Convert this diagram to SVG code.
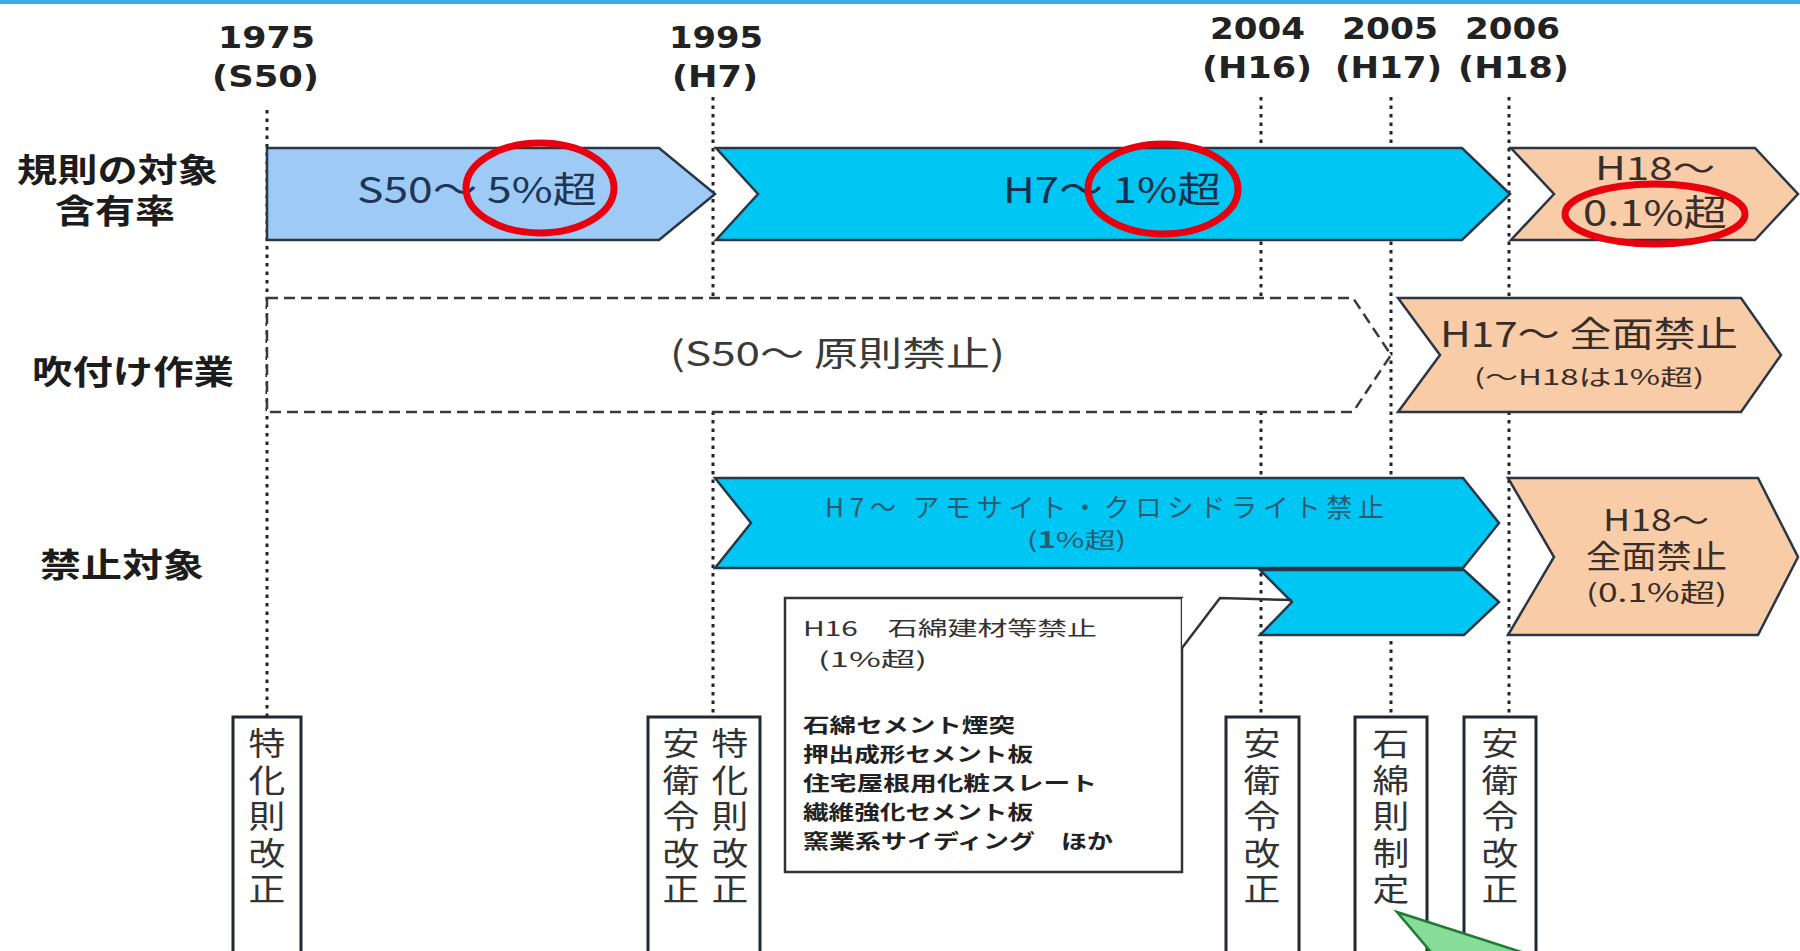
<svg xmlns="http://www.w3.org/2000/svg" width="1800" height="951" viewBox="0 0 1800 951">
<style>
text{font-family:"Noto Sans CJK JP","Noto Sans",sans-serif}
.yr{font-family:"DejaVu Sans","Liberation Sans",sans-serif;font-weight:bold;font-size:30px;fill:#222}
.lbl{font-weight:700;font-size:33px;fill:#1c1c1c}
.guide{stroke:#222;stroke-width:3;stroke-dasharray:3.5 5;fill:none}
.ar{stroke:#2a3645;stroke-width:2.5;stroke-linejoin:miter}
.lb{fill:#9ecbf6}
.cy{fill:#00c6f3}
.pe{fill:#f9cca8}
.ring{fill:none;stroke:#e8000f;stroke-width:7}
.vbox{fill:#fff;stroke:#1f2833;stroke-width:3}
.vt{font-size:32px;fill:#333;writing-mode:vertical-rl;letter-spacing:4.5px}
.cl{font-size:20.5px;fill:#333}
.li{font-size:20px;font-weight:700;fill:#222}
</style>
<rect x="0" y="0" width="1800" height="951" fill="#fff"/>
<rect x="0" y="0" width="1800" height="4" fill="#3daae6"/>

<g id="guides">
<line class="guide" x1="267" y1="110" x2="267" y2="717"/>
<line class="guide" x1="713" y1="97" x2="713" y2="717"/>
<line class="guide" x1="1261" y1="97" x2="1261" y2="717"/>
<line class="guide" x1="1391" y1="97" x2="1391" y2="717"/>
<line class="guide" x1="1509" y1="97" x2="1509" y2="717"/>
</g>

<g id="years">
<text class="yr" x="218" y="48" textLength="97" lengthAdjust="spacingAndGlyphs">1975</text>
<text class="yr" x="212" y="87" textLength="107" lengthAdjust="spacingAndGlyphs">(S50)</text>
<text class="yr" x="669" y="48" textLength="94" lengthAdjust="spacingAndGlyphs">1995</text>
<text class="yr" x="672" y="87" textLength="86" lengthAdjust="spacingAndGlyphs">(H7)</text>
<text class="yr" x="1210" y="39" textLength="95" lengthAdjust="spacingAndGlyphs">2004</text>
<text class="yr" x="1202" y="78" textLength="110" lengthAdjust="spacingAndGlyphs">(H16)</text>
<text class="yr" x="1342" y="39" textLength="96" lengthAdjust="spacingAndGlyphs">2005</text>
<text class="yr" x="1335" y="78" textLength="107" lengthAdjust="spacingAndGlyphs">(H17)</text>
<text class="yr" x="1465" y="39" textLength="95" lengthAdjust="spacingAndGlyphs">2006</text>
<text class="yr" x="1458" y="78" textLength="111" lengthAdjust="spacingAndGlyphs">(H18)</text>
</g>

<g id="row-labels">
<text class="lbl" x="17" y="182" textLength="201" lengthAdjust="spacingAndGlyphs">規則の対象</text>
<text class="lbl" x="55" y="223" textLength="120" lengthAdjust="spacingAndGlyphs">含有率</text>
<text class="lbl" x="32" y="384" textLength="202" lengthAdjust="spacingAndGlyphs">吹付け作業</text>
<text class="lbl" x="40" y="577" textLength="164" lengthAdjust="spacingAndGlyphs">禁止対象</text>
</g>

<g id="s50-5pct">
<polygon class="ar lb" points="267,148 659,148 715,194 659,240 267,240"/>
<text x="357" y="203" font-size="36" fill="#1e3556" textLength="240" lengthAdjust="spacingAndGlyphs">S50～ 5%超</text>
</g>
<g id="h7-1pct">
<polygon class="ar cy" points="716,148 1462,148 1510,194 1462,240 716,240 758,194"/>
<text x="1003" y="203" font-size="36" fill="#15304a" textLength="218" lengthAdjust="spacingAndGlyphs">H7～ 1%超</text>
</g>
<g id="h18-01pct">
<polygon class="ar pe" points="1511,148 1755,148 1798,194 1755,240 1511,240 1554,194"/>
<text x="1595" y="180" font-size="32" fill="#3a2e28" textLength="120" lengthAdjust="spacingAndGlyphs">H18～</text>
<text x="1583" y="226" font-size="36" fill="#3a2e28" textLength="144" lengthAdjust="spacingAndGlyphs">0.1%超</text>
</g>

<g id="spray-s50">
<polygon points="267,298 1353,298 1391,355 1353,412 267,412" fill="#fff" stroke="#3a3a3a" stroke-width="2.5" stroke-dasharray="11 6"/>
<text x="670" y="366" font-size="34" fill="#3a3a3a" textLength="335" lengthAdjust="spacingAndGlyphs">(S50～ 原則禁止)</text>
</g>
<g id="spray-h17">
<polygon class="ar pe" points="1398,298 1741,298 1781,355 1741,412 1398,412 1440,355"/>
<text x="1440" y="347" font-size="35" fill="#3a2e28" textLength="298" lengthAdjust="spacingAndGlyphs">H17～ 全面禁止</text>
<text x="1474" y="385" font-size="22" fill="#3a2e28" textLength="230" lengthAdjust="spacingAndGlyphs">(～H18は1%超)</text>
</g>

<g id="ban-h7">
<polygon class="ar cy" points="715,478 1463,478 1499,523 1463,568 715,568 751,523"/>
<text x="825" y="517" font-size="26" fill="#2b5a72" textLength="559" lengthAdjust="spacing">H7～ アモサイト・クロシドライト禁止</text>
<text x="1027" y="548" font-size="22" fill="#2b5a72" textLength="99" lengthAdjust="spacingAndGlyphs">(<tspan font-weight="700">1</tspan>%超)</text>
</g>
<g id="ban-h16">
<polygon class="ar cy" points="1260,570 1464,570 1499,602 1464,635 1260,635 1292,602"/>
</g>
<g id="ban-h18">
<polygon class="ar pe" points="1508,478 1758,478 1798,557 1758,635 1508,635 1554,557"/>
<text x="1603" y="531" font-size="30" fill="#3a2e28" textLength="106" lengthAdjust="spacingAndGlyphs">H18～</text>
<text x="1586" y="568" font-size="32" fill="#3a2e28" textLength="141" lengthAdjust="spacingAndGlyphs">全面禁止</text>
<text x="1586" y="602" font-size="25" fill="#3a2e28" textLength="141" lengthAdjust="spacingAndGlyphs">(0.1%超)</text>
</g>

<g id="callout-h16">
<rect x="785" y="598" width="397" height="274" fill="#fff" stroke="#333" stroke-width="2.5"/>
<polygon points="1182,598 1220,598 1182,648" fill="#fff"/>
<polyline points="1182,648 1220,598 1292,600" fill="none" stroke="#333" stroke-width="2.5"/>
<text class="cl" x="803" y="636" textLength="294" lengthAdjust="spacingAndGlyphs">H16　石綿建材等禁止</text>
<text class="cl" x="818" y="667" textLength="109" lengthAdjust="spacingAndGlyphs">(1%超)</text>
<text class="li" x="803" y="733" textLength="212" lengthAdjust="spacingAndGlyphs">石綿セメント煙突</text>
<text class="li" x="803" y="762" textLength="230" lengthAdjust="spacingAndGlyphs">押出成形セメント板</text>
<text class="li" x="803" y="791" textLength="294" lengthAdjust="spacingAndGlyphs">住宅屋根用化粧スレート</text>
<text class="li" x="803" y="820" textLength="230" lengthAdjust="spacingAndGlyphs">繊維強化セメント板</text>
<text class="li" x="803" y="849" textLength="310" lengthAdjust="spacingAndGlyphs">窯業系サイディング　ほか</text>
</g>

<g id="ev-1975">
<rect class="vbox" x="233" y="717" width="68" height="250"/>
<g transform="translate(267 0) scale(1.15 1)"><text class="vt" x="0" y="727">特化則改正</text></g>
</g>
<g id="ev-1995">
<rect class="vbox" x="648" y="717" width="112" height="250"/>
<g transform="translate(681 0) scale(1.15 1)"><text class="vt" x="0" y="727">安衛令改正</text></g>
<g transform="translate(730 0) scale(1.15 1)"><text class="vt" x="0" y="727">特化則改正</text></g>
</g>
<g id="ev-2004">
<rect class="vbox" x="1226" y="717" width="73" height="250"/>
<g transform="translate(1262 0) scale(1.15 1)"><text class="vt" x="0" y="727">安衛令改正</text></g>
</g>
<g id="ev-2005">
<rect class="vbox" x="1355" y="717" width="72" height="250"/>
<g transform="translate(1391 0) scale(1.15 1)"><text class="vt" x="0" y="727">石綿則制定</text></g>
</g>
<g id="ev-2006">
<rect class="vbox" x="1464" y="717" width="72" height="250"/>
<g transform="translate(1500 0) scale(1.15 1)"><text class="vt" x="0" y="727">安衛令改正</text></g>
</g>

<g id="highlights">
<ellipse class="ring" cx="540" cy="188" rx="74" ry="45"/>
<ellipse class="ring" cx="1163" cy="189" rx="75" ry="45"/>
<ellipse class="ring" cx="1655" cy="214" rx="90" ry="30"/>
</g>

<g id="green-callout">
<polygon points="1397,912 1540,958 1436,958" fill="#86dc98" stroke="#1f7a34" stroke-width="2.5" stroke-linejoin="miter"/>
</g>
</svg>
